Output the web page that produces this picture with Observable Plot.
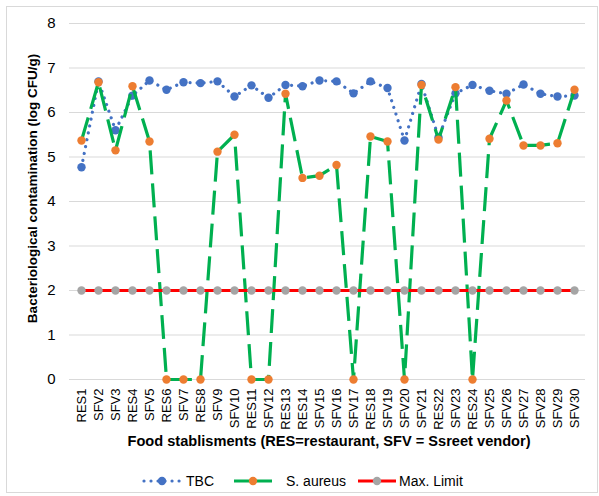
<!DOCTYPE html>
<html>
<head>
<meta charset="utf-8">
<script src="https://cdn.jsdelivr.net/npm/d3@7"></script>
<script src="https://cdn.jsdelivr.net/npm/@observablehq/plot@0.6"></script>
<style>
  html, body { margin: 0; padding: 0; background: #fff; }
  #wrap { position: relative; width: 599px; height: 496px; font-family: "Liberation Sans", Arial, sans-serif; color: #000; }
  #border { position: absolute; left: 6px; top: 6px; width: 592px; height: 487px; border: 1px solid #d9d9d9; box-sizing: border-box; }
  #chart { position: absolute; left: 0; top: 0; }
  #xtitle { position: absolute; left: 71px; width: 516px; top: 433px; text-align: center; font-weight: bold; font-size: 14.6px; }
  #legend { position: absolute; top: 473px; left: 0; width: 599px; height: 16px; font-size: 14px; }
  .item { position: absolute; top: 0; display: flex; align-items: center; height: 16px; }
  .item svg { display: block; }
</style>
</head>
<body>
<div id="wrap">
  <div id="border"></div>
  <div id="chart"></div>
  <div id="xtitle"></div>
  <div id="legend"></div>
</div>
<script>
const categories = ["RES1","SFV2","SFV3","RES4","SFV5","RES6","SFV7","RES8","SFV9","SFV10",
  "RES11","SFV12","RES13","RES14","SFV15","SFV16","SFV17","RES18","SFV19","SFV20",
  "SFV21","RES22","SFV23","RES24","SFV25","SFV26","SFV27","SFV28","SFV29","SFV30"];
const tbc = [4.77,6.70,5.60,6.38,6.72,6.51,6.68,6.66,6.70,6.36,
  6.61,6.33,6.62,6.59,6.72,6.70,6.43,6.70,6.55,5.37,
  6.64,5.44,6.43,6.62,6.49,6.42,6.63,6.42,6.36,6.38];
const sAureus = [5.37,6.68,5.15,6.59,5.35,0,0,0,5.12,5.50,
  0,0,6.42,4.53,4.58,4.82,0,5.46,5.35,0,
  6.62,5.39,6.57,0,5.41,6.27,5.26,5.26,5.31,6.51];
const maxLimit = [2,2,2,2,2,2,2,2,2,2,2,2,2,2,2,2,2,2,2,2,2,2,2,2,2,2,2,2,2,2];
const yTicks = [0,1,2,3,4,5,6,7,8];
const seriesNames = ["TBC","S. aureus","Max. Limit"];
const yTitle = "Bacteriological contamination (log CFU/g)";
const xTitle = "Food stablisments (RES=restaurant, SFV = Ssreet vendor)";

const colors = {
  tbcLine: "#4472C4", tbcDot: "#4472C4",
  saLine: "#00B050", saDot: "#ED7D31",
  maxLine: "#FF0000", maxDot: "#A5A5A5"
};

const rows = categories.map((c, i) => ({c, tbc: tbc[i], sa: sAureus[i], max: maxLimit[i]}));

const chart = Plot.plot({
  width: 599,
  height: 430,
  marginLeft: 69,
  marginRight: 14,
  marginTop: 23,
  marginBottom: 51,
  style: {fontFamily: "'Liberation Sans', Arial, sans-serif", color: "#000", background: "transparent"},
  x: {type: "point", domain: categories, padding: 0.5},
  y: {domain: [0, 8]},
  marks: [
    Plot.gridY(yTicks, {stroke: "#d9d9d9", strokeOpacity: 1, strokeWidth: 1}),
    Plot.axisY(yTicks, {tickSize: 0, tickPadding: 14, fontSize: 15, label: null, tickFormat: d => String(d)}),
    Plot.axisX({tickSize: 0, tickPadding: 9, tickRotate: -90, fontSize: 13, label: null}),
    Plot.text([yTitle], {frameAnchor: "left", textAnchor: "middle", lineAnchor: "middle", text: d => d, rotate: -90, dx: -37, dy: -13, fontWeight: "bold", fontSize: 13.5}),
    Plot.line(rows, {x: "c", y: "tbc", stroke: colors.tbcLine, strokeWidth: 3.2, strokeDasharray: "0.01,7", strokeLinecap: "round"}),
    Plot.dot(rows, {x: "c", y: "tbc", r: 4.2, fill: colors.tbcDot, stroke: null}),
    Plot.line(rows, {x: "c", y: "sa", stroke: colors.saLine, strokeWidth: 3.2, strokeDasharray: "24,9", strokeLinecap: "butt"}),
    Plot.dot(rows, {x: "c", y: "sa", r: 4.2, fill: colors.saDot, stroke: null}),
    Plot.line(rows, {x: "c", y: "max", stroke: colors.maxLine, strokeWidth: 3.2}),
    Plot.dot(rows, {x: "c", y: "max", r: 4.2, fill: colors.maxDot, stroke: null})
  ]
});
document.getElementById("chart").appendChild(chart);
document.getElementById("xtitle").textContent = xTitle;

// Legend
const legendSpecs = [
  {name: seriesNames[0], left: 142, line: colors.tbcLine, dot: colors.tbcDot, dash: "0.01,7", cap: "round", gap: 4},
  {name: seriesNames[1], left: 233, line: colors.saLine, dot: colors.saDot, dash: null, cap: "butt", gap: 13},
  {name: seriesNames[2], left: 357, line: colors.maxLine, dot: colors.maxDot, dash: null, cap: "butt", gap: 2}
];
const legend = document.getElementById("legend");
for (const s of legendSpecs) {
  const item = document.createElement("div");
  item.className = "item";
  item.style.left = s.left + "px";
  const ns = "http://www.w3.org/2000/svg";
  const svg = document.createElementNS(ns, "svg");
  svg.setAttribute("width", 40);
  svg.setAttribute("height", 16);
  const ln = document.createElementNS(ns, "line");
  ln.setAttribute("x1", s.dash ? 2 : 1);
  ln.setAttribute("x2", s.dash ? 38 : 39);
  ln.setAttribute("y1", 8); ln.setAttribute("y2", 8);
  ln.setAttribute("stroke", s.line);
  ln.setAttribute("stroke-width", 3.2);
  ln.setAttribute("stroke-linecap", s.cap);
  if (s.dash) ln.setAttribute("stroke-dasharray", s.dash);
  svg.appendChild(ln);
  const c = document.createElementNS(ns, "circle");
  c.setAttribute("cx", 20); c.setAttribute("cy", 8); c.setAttribute("r", 4.2);
  c.setAttribute("fill", s.dot);
  svg.appendChild(c);
  item.appendChild(svg);
  const t = document.createElement("span");
  t.textContent = s.name;
  t.style.marginLeft = s.gap + "px";
  item.appendChild(t);
  legend.appendChild(item);
}
</script>
</body>
</html>
